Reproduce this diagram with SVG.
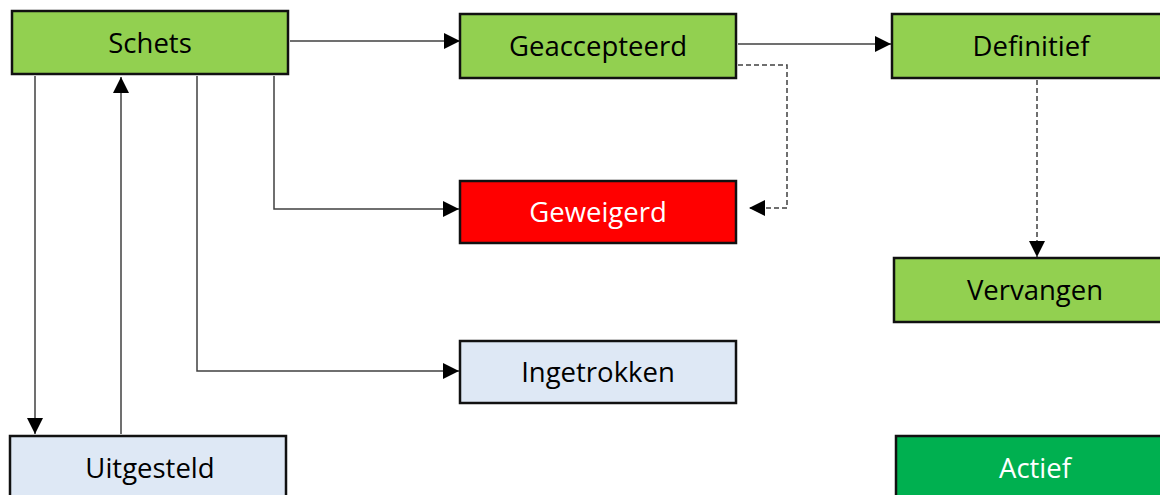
<svg xmlns="http://www.w3.org/2000/svg" width="1160" height="495" viewBox="0 0 1160 495">
<style>
.box{stroke:#111;stroke-width:2.5}
.green{fill:#92D050}
.red{fill:#FF0000}
.blue{fill:#DEE8F5}
.dark{fill:#00B050}
.lbl{font-family:"Open Sans",sans-serif;font-size:27.5px;text-anchor:middle;fill:#000}
.w{fill:#fff}
.c{fill:none;stroke:#404040;stroke-width:1.5}
.d{stroke-dasharray:5 3}
</style>
<defs>
<marker id="ah" markerUnits="userSpaceOnUse" markerWidth="16" markerHeight="16" viewBox="0 0 14 14" refX="14" refY="7" orient="auto">
<path d="M0,0 L14,7 L0,14 Z" fill="#000"/>
</marker>
</defs>
<rect width="1160" height="495" fill="#fff"/>
<g id="connectors">
<path class="c" d="M290,41 H460" marker-end="url(#ah)"/>
<path class="c" d="M738,44 H891" marker-end="url(#ah)"/>
<path class="c d" d="M738,65 H787 V208 H749" marker-end="url(#ah)"/>
<path class="c d" d="M1037,80 V257" marker-end="url(#ah)"/>
<path class="c" d="M274,76 V209 H459" marker-end="url(#ah)"/>
<path class="c" d="M197,76 V371 H459" marker-end="url(#ah)"/>
<path class="c" d="M35,76 V434" marker-end="url(#ah)"/>
<path class="c" d="M121,434 V77" marker-end="url(#ah)"/>
</g>
<g id="schets"><rect class="box green" x="12" y="11" width="276" height="63"/><text class="lbl" x="150" y="53">Schets</text></g>
<g id="geaccepteerd"><rect class="box green" x="460" y="14" width="276" height="64"/><text class="lbl" x="598" y="56">Geaccepteerd</text></g>
<g id="definitief"><rect class="box green" x="892" y="14" width="276" height="64"/><text class="lbl" x="1031" y="56">Definitief</text></g>
<g id="geweigerd"><rect class="box red" x="460" y="181" width="276" height="62"/><text class="lbl w" x="598" y="222">Geweigerd</text></g>
<g id="vervangen"><rect class="box green" x="894" y="258" width="276" height="64"/><text class="lbl" x="1035" y="300">Vervangen</text></g>
<g id="ingetrokken"><rect class="box blue" x="460" y="341" width="276" height="62"/><text class="lbl" x="598" y="382">Ingetrokken</text></g>
<g id="uitgesteld"><rect class="box blue" x="10" y="436" width="276" height="64"/><text class="lbl" x="150" y="478">Uitgesteld</text></g>
<g id="actief"><rect class="box dark" x="896" y="436" width="276" height="64"/><text class="lbl w" x="1035" y="478">Actief</text></g>
</svg>
